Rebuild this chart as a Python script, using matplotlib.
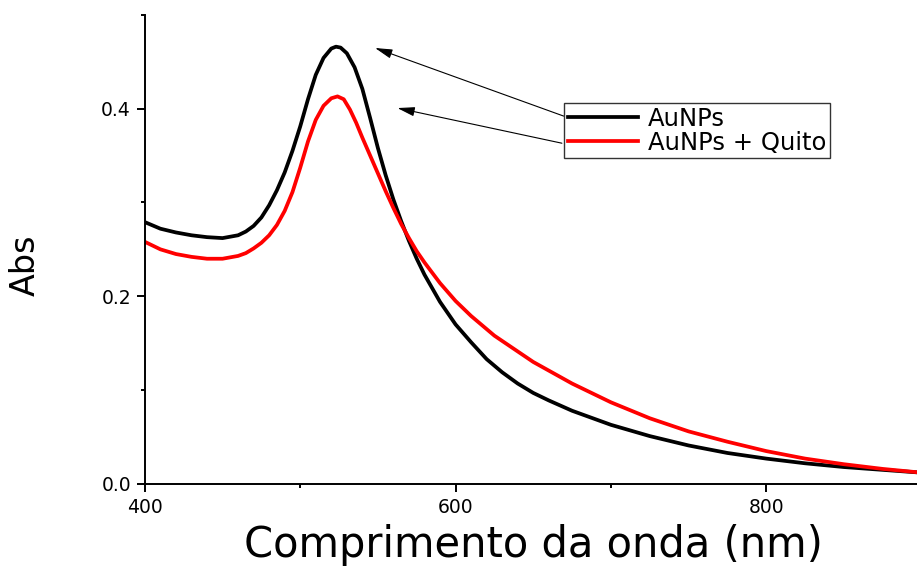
import numpy as np
import matplotlib
matplotlib.use("Agg")
import matplotlib.pyplot as plt
from matplotlib.ticker import MultipleLocator

# AuNPs (black)
wl_au = [400, 410, 420, 430, 440, 450, 460, 465, 470, 475, 480, 485, 490,
         495, 500, 505, 510, 515, 520, 523, 526, 530, 535, 540, 545, 550,
         555, 560, 565, 570, 575, 580, 590, 600, 610, 620, 630, 640, 650,
         660, 675, 700, 725, 750, 775, 800, 825, 850, 875, 900]
abs_au = [0.279, 0.272, 0.268, 0.265, 0.263, 0.262, 0.265, 0.269, 0.275,
          0.284, 0.297, 0.313, 0.332, 0.355, 0.381, 0.410, 0.436, 0.454,
          0.464, 0.466, 0.465, 0.459, 0.444, 0.421, 0.390, 0.358, 0.329,
          0.303, 0.280, 0.259, 0.240, 0.223, 0.194, 0.170, 0.151, 0.133,
          0.119, 0.107, 0.097, 0.089, 0.078, 0.063, 0.051, 0.041, 0.033,
          0.027, 0.022, 0.018, 0.015, 0.012]

# AuNPs + Quito (red)
wl_q = [400, 410, 420, 430, 440, 450, 460, 465, 470, 475, 480, 485, 490,
        495, 500, 505, 510, 515, 520, 524, 528, 532, 536, 540, 545, 550,
        555, 560, 565, 570, 575, 580, 590, 600, 610, 625, 650, 675, 700,
        725, 750, 775, 800, 825, 850, 875, 900]
abs_q = [0.258, 0.250, 0.245, 0.242, 0.240, 0.240, 0.243, 0.246, 0.251,
         0.257, 0.265, 0.276, 0.291, 0.311, 0.337, 0.365, 0.388, 0.403,
         0.411, 0.413, 0.410, 0.399, 0.385, 0.369, 0.350, 0.331, 0.312,
         0.294, 0.277, 0.262, 0.248, 0.236, 0.214, 0.195, 0.179, 0.158,
         0.130, 0.107, 0.087, 0.070, 0.056, 0.045, 0.035, 0.027, 0.021,
         0.016, 0.012]

labels = ["AuNPs", "AuNPs + Quito"]

plt.rcParams['font.family'] = 'DejaVu Sans'

fig = plt.figure(figsize=(9.17, 5.68), dpi=100)
ax = fig.add_axes([0.158, 0.148, 0.847, 0.826])

ax.plot(wl_au, abs_au, color='black', lw=2.7, label=labels[0],
        solid_joinstyle='round')
ax.plot(wl_q, abs_q, color='red', lw=2.7, label=labels[1],
        solid_joinstyle='round')

ax.set_xlim(400, 900)
ax.set_ylim(0, 0.5)
ax.xaxis.set_major_locator(MultipleLocator(200))
ax.xaxis.set_minor_locator(MultipleLocator(100))
ax.yaxis.set_major_locator(MultipleLocator(0.2))
ax.yaxis.set_minor_locator(MultipleLocator(0.1))
ax.yaxis.set_major_formatter(matplotlib.ticker.FormatStrFormatter('%.1f'))

for s in ['top', 'right']:
    ax.spines[s].set_visible(False)
for s in ['left', 'bottom']:
    ax.spines[s].set_linewidth(1.4)

ax.tick_params(which='major', direction='out', length=6, width=1.4,
               labelsize=13.5, pad=4)
ax.tick_params(which='minor', direction='out', length=3, width=1.4)

ax.set_xlabel("Comprimento da onda (nm)", fontsize=30, labelpad=5)
ax.set_ylabel("Abs", fontsize=24)
ax.yaxis.set_label_coords(-0.133, 0.467)

leg = ax.legend(loc='upper left', bbox_to_anchor=(0.54, 0.812),
                borderaxespad=0, fontsize=17.5, handlelength=2.9,
                handletextpad=0.4, labelspacing=0.0, borderpad=0.15,
                fancybox=False, framealpha=1)
leg.get_frame().set_edgecolor('#333333')
leg.get_frame().set_linewidth(1.0)

arrow = dict(arrowstyle='-|>,head_length=0.75,head_width=0.2', color='black',
             lw=0.8, mutation_scale=14)
ax.annotate("", xy=(546.5, 0.4656), xytext=(671.3, 0.391), arrowprops=arrow)
ax.annotate("", xy=(560.8, 0.4012), xytext=(670.2, 0.3625), arrowprops=arrow)

fig.savefig("out.png", dpi=100)
